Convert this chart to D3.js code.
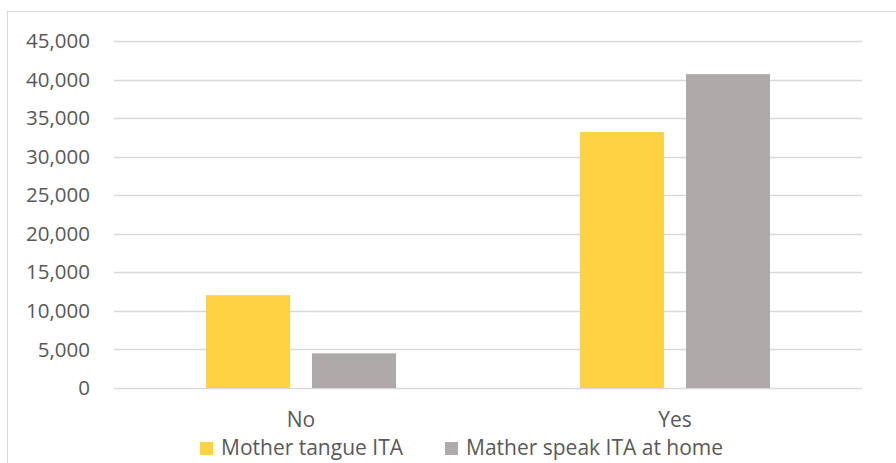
<!DOCTYPE html>
<html>
<head>
<meta charset="utf-8">
<script src="https://cdn.jsdelivr.net/npm/d3@7"></script>
<style>
  body { margin: 0; background: #fff; }
  svg { display: block; font-family: "Open Sans", sans-serif; }
</style>
</head>
<body>
<script>
// chart values
var categories = ["No", "Yes"];
var seriesNames = ["Mother tangue ITA", "Mather speak ITA at home"];
var motherTongue = [12050, 33200];
var speakAtHome = [4500, 40700];
var yTicks = [0, 5000, 10000, 15000, 20000, 25000, 30000, 35000, 40000, 45000];
var colors = ["#FFD244", "#AEAAAA"];

var width = 896, height = 463;
var plotLeft = 114, plotRight = 862, plotTop = 41, plotBottom = 388;

var svg = d3.select("body").append("svg")
    .attr("width", width)
    .attr("height", height);

// chart frame
svg.append("rect")
    .attr("x", 7.5).attr("y", 11.5)
    .attr("width", 900).attr("height", 470)
    .attr("fill", "none")
    .attr("stroke", "#d9d9d9");

var y = d3.scaleLinear().domain([0, 45000]).range([plotBottom, plotTop]);
var x = d3.scaleBand().domain(categories).range([plotLeft, plotRight]);
var x1 = d3.scaleBand().domain(seriesNames).range([0, 190]).paddingInner(0.2075);

// gridlines
svg.append("g").selectAll("line")
    .data(yTicks)
    .enter().append("line")
    .attr("x1", plotLeft).attr("x2", plotRight)
    .attr("y1", function(d){ return Math.round(y(d)) + 0.5; })
    .attr("y2", function(d){ return Math.round(y(d)) + 0.5; })
    .attr("stroke", "#d9d9d9")
    .attr("stroke-width", 1.3);

// y axis labels
var yAxis = d3.axisLeft(y).tickValues(yTicks).tickSize(0).tickPadding(0)
    .tickFormat(d3.format(","));
var ya = svg.append("g").attr("transform", "translate(90,0)").call(yAxis);
ya.select(".domain").remove();
ya.selectAll("text")
    .attr("fill", "#595959")
    .style("font-size", "20.5px")
    .style("font-family", "Open Sans");

// bars
var rows = categories.map(function(c, i){
    return { cat: c, vals: [motherTongue[i], speakAtHome[i]] };
});
var groups = svg.append("g").selectAll("g")
    .data(rows)
    .enter().append("g")
    .attr("transform", function(d){ return "translate(" + (x(d.cat) + x.bandwidth() / 2 - 95) + ",0)"; });

groups.selectAll("rect")
    .data(function(d){ return d.vals.map(function(v, j){ return { name: seriesNames[j], v: v, j: j }; }); })
    .enter().append("rect")
    .attr("x", function(d){ return x1(d.name); })
    .attr("width", x1.bandwidth())
    .attr("y", function(d){ return y(d.v); })
    .attr("height", function(d){ return plotBottom - y(d.v); })
    .attr("fill", function(d){ return colors[d.j]; });

// category labels
var xAxis = d3.axisBottom(x).tickSize(0).tickPadding(0);
var xa = svg.append("g").attr("transform", "translate(0,427)").call(xAxis);
xa.select(".domain").remove();
xa.selectAll("text")
    .attr("dy", 0)
    .attr("fill", "#595959")
    .style("font-size", "21px")
    .style("font-family", "Open Sans");

// legend
var legendX = [200, 445];
var legend = svg.append("g").selectAll("g")
    .data(seriesNames)
    .enter().append("g")
    .attr("transform", function(d, i){ return "translate(" + legendX[i] + ",442)"; });
legend.append("rect")
    .attr("width", 13).attr("height", 13)
    .attr("fill", function(d, i){ return colors[i]; });
legend.append("text")
    .attr("x", 21).attr("y", 13)
    .attr("fill", "#595959")
    .style("font-size", "21px")
    .text(function(d){ return d; });
</script>
</body>
</html>
